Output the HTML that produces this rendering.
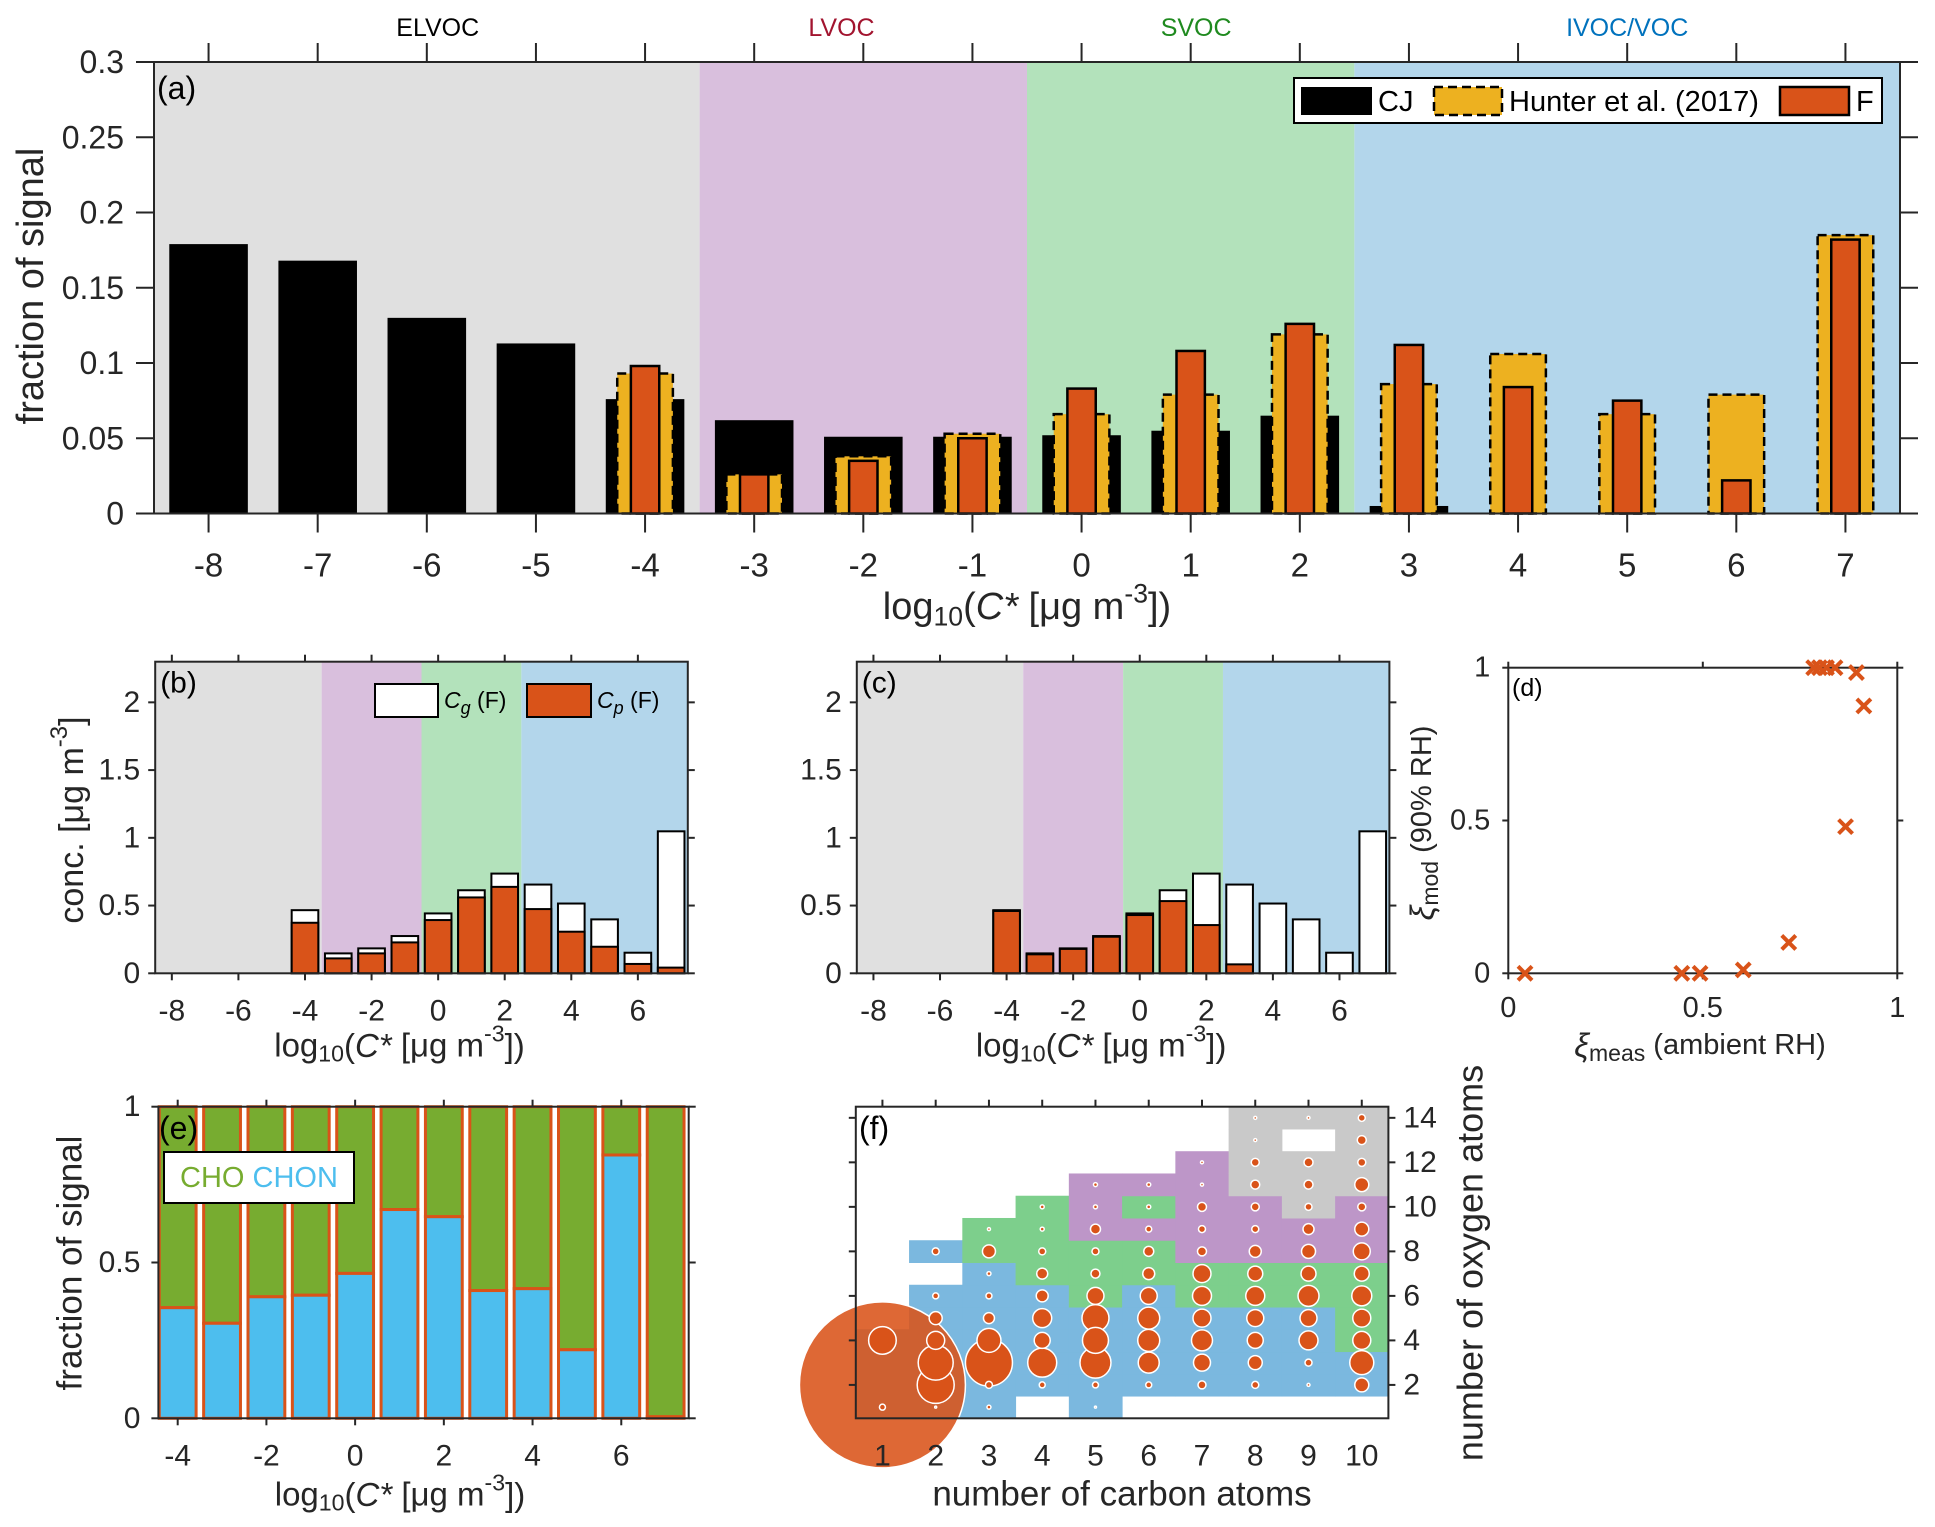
<!DOCTYPE html>
<html><head><meta charset="utf-8"><style>
html,body{margin:0;padding:0;background:#fff;}
svg{display:block;font-family:"Liberation Sans",Arial,sans-serif;}
</style></head><body>
<svg id="fig" xmlns="http://www.w3.org/2000/svg" width="1935" height="1527" viewBox="0 0 1935 1527"></svg>
<script>
// ---------- Panel (a) data ----------
const aCats = [-8,-7,-6,-5,-4,-3,-2,-1,0,1,2,3,4,5,6,7];
const aCJ = [0.179,0.168,0.130,0.113,0.076,0.062,0.051,0.051,0.052,0.055,0.065,0.005,0,0,0,0];
const aHunter = [null,null,null,null,0.093,0.026,0.038,0.053,0.066,0.079,0.119,0.086,0.106,0.066,0.079,0.185];
const aF = [null,null,null,null,0.098,0.026,0.035,0.050,0.083,0.108,0.126,0.112,0.084,0.075,0.022,0.182];
const aYTicks = [0,0.05,0.1,0.15,0.2,0.25,0.3];
const aYTickLabels = ["0","0.05","0.1","0.15","0.2","0.25","0.3"];
// ---------- Panel (b) data ----------
const bCats = [-4,-3,-2,-1,0,1,2,3,4,5,6,7];
const bTotal = [0.466,0.147,0.184,0.275,0.442,0.613,0.736,0.655,0.515,0.398,0.152,1.048];
const bCp = [0.373,0.110,0.147,0.228,0.393,0.560,0.638,0.474,0.307,0.196,0.069,0.042];
// ---------- Panel (c) data ----------
const cTotal = [0.466,0.147,0.184,0.275,0.442,0.613,0.736,0.655,0.515,0.398,0.152,1.048];
const cCp = [0.460,0.140,0.180,0.270,0.430,0.533,0.356,0.066,0,0,0,0];
const bcXTicks = [-8,-6,-4,-2,0,2,4,6];
const bcYTicks = [0,0.5,1,1.5,2];
const bcYTickLabels = ["0","0.5","1","1.5","2"];
// ---------- Panel (d) data ----------
const dX = [0.043,0.446,0.493,0.604,0.721,0.785,0.800,0.818,0.840,0.895,0.867,0.914];
const dY = [0,0,0,0.011,0.101,1,1,1,1,0.984,0.48,0.875];
const dTicks = [0,0.5,1];
const dTickLabels = ["0","0.5","1"];
// ---------- Panel (e) data ----------
const eCats = [-4,-3,-2,-1,0,1,2,3,4,5,6,7];
const eCHON = [0.355,0.305,0.39,0.395,0.465,0.67,0.647,0.41,0.416,0.22,0.845,0.005];
const eXTicks = [-4,-2,0,2,4,6];
const eYTicks = [0,0.5,1];
const eYTickLabels = ["0","0.5","1"];
// ---------- Panel (f) data ----------
const fCols = [1,2,3,4,5,6,7,8,9,10];
const fClass = ["bbbb..........","bbbbbb.b......","bbbbbbbgg.....",".bbbbbgggg....","bbbbbgggppp...",".bbbbbggpgp...",".bbbbggppppp..",".bbbbggpppyyyy",".bbbbggppyyy.y",".bbggggpppyyyy"];
const fC = [1,1,1, 2,2,2,2,2,2,2, 3,3,3,3,3,3,3,3,3, 4,4,4,4,4,4,4,4,4, 5,5,5,5,5,5,5,5,5,5,5, 6,6,6,6,6,6,6,6,6,6, 7,7,7,7,7,7,7,7,7,7,7, 8,8,8,8,8,8,8,8,8,8,8,8,8, 9,9,9,9,9,9,9,9,9,9,9,9, 10,10,10,10,10,10,10,10,10,10,10,10,10];
const fO = [2,4,1, 8,6,5,4,3,2,1, 9,8,7,6,5,4,3,2,1, 10,9,8,7,6,5,4,3,2, 11,10,9,8,7,6,5,4,3,2,1, 11,10,9,8,7,6,5,4,3,2, 12,11,10,9,8,7,6,5,4,3,2, 14,13,12,11,10,9,8,7,6,5,4,3,2, 14,12,11,10,9,8,7,6,5,4,3,2, 14,13,12,11,10,9,8,7,6,5,4,3,2];
const fSignal = [83,13.8,3, 3.5,3,6.5,9,17.5,18.5,1, 1.5,6.5,2,3,5.5,12,23.5,3.5,2, 2,2,3.5,5.5,6,9.5,8,14.5,3, 2,2,5,3.5,4.5,8.5,13.5,13,15.5,3,1, 2,2,3,5,6,8.5,11,11,10.5,3, 1.5,1.5,4.5,3.5,4.5,9,9.5,9,10.5,8.5,4, 1.5,1.5,4,4.5,4,3.5,6,7.5,9.5,8.5,8,7,3.5, 1.5,4.5,4.5,3.5,5.5,7,7.5,10.5,8.5,9.5,3.5,1.5, 3.5,4.5,4,7,4,7,8.5,7.5,10,9,9,12,7];
const fXTicks = [1,2,3,4,5,6,7,8,9,10];
const fYTicks = [2,4,6,8,10,12,14];

const NS = "http://www.w3.org/2000/svg";
const svg = document.getElementById('fig');
function mk(tag, attrs, parent){ const e=document.createElementNS(NS,tag); for(const k in attrs) e.setAttribute(k, attrs[k]); (parent||svg).appendChild(e); return e; }
function lin(d0,d1,r0,r1){ return v => r0 + (v-d0)/(d1-d0)*(r1-r0); }
function txt(x,y,s,size,anchor,parent,extra){ const t=mk('text',Object.assign({x:x,y:y,'font-size':size,'text-anchor':anchor||'middle','dominant-baseline':'central',fill:'#262626'},extra||{}),parent); t.textContent=s; return t; }

const ORANGE='#D95319', YELLOW='#EDB120';
const BG = {gray:'#e0e0e0', purple:'#d9bfdd', green:'#b3e2bb', blue:'#b3d6eb'};

function bands(g, x, y, T, B){
  const defs=[[-8.5,-3.5,BG.gray,'band-elvoc'],[-3.5,-0.5,BG.purple,'band-lvoc'],[-0.5,2.5,BG.green,'band-svoc'],[2.5,7.5,BG.blue,'band-ivoc']];
  defs.forEach(d=>{
    const r=mk('rect',{x:x(d[0]),y:T,width:x(d[1])-x(d[0]),height:B-T,fill:d[2]},g);
    
    
  });
}
function frame(g,L,R,T,B){
  const r=mk('rect',{x:L,y:T,width:R-L,height:B-T,fill:'none',stroke:'#262626','stroke-width':2},g);
  
  
}
function xTicks(g,x,vals,T,B,len,labels,ly,fs,top){
  vals.forEach((v,i)=>{
    mk('line',{x1:x(v),x2:x(v),y1:B,y2:B+len,stroke:'#262626','stroke-width':2},g);
    if(top!==false) mk('line',{x1:x(v),x2:x(v),y1:T,y2:T-len,stroke:'#262626','stroke-width':2},g);
    if(labels){ const t=txt(x(v),ly,labels[i],fs,'middle',g);
      
       }
  });
}
function yTicks(g,y,vals,L,R,len,labels,lx,fs,anchor){
  vals.forEach((v,i)=>{
    mk('line',{x1:L,x2:L-len,y1:y(v),y2:y(v),stroke:'#262626','stroke-width':2},g);
    mk('line',{x1:R,x2:R+len,y1:y(v),y2:y(v),stroke:'#262626','stroke-width':2},g);
    if(labels){ const t=txt(lx,y(v),labels[i],fs,anchor||'end',g);
      
       }
  });
}
function logTitle(g,cx,cy,fs){
  const t=mk('text',{x:cx,y:cy,'font-size':fs,'text-anchor':'middle','dominant-baseline':'central',fill:'#262626'},g);
  t.innerHTML='log<tspan font-size="'+(fs*0.7)+'" dy="'+(fs*0.25)+'">10</tspan><tspan dy="'+(-fs*0.25)+'">(</tspan><tspan font-style="italic">C*</tspan> [μg m<tspan font-size="'+(fs*0.7)+'" dy="'+(-fs*0.35)+'">-3</tspan><tspan dy="'+(fs*0.35)+'">])</tspan>';
  return t;
}

// ================= Panel (a) =================
(function(){
  const g=mk('g',{});
  
  
  const L=154,R=1900,T=62,B=513.5;
  const x=lin(-8.5,7.5,L,R), y=lin(0,0.3,B,T);
  bands(g,x,y,T,B);
  const u=x(1)-x(0);
  aCats.forEach((c,i)=>{
    if(aCJ[i]>0){ const r=mk('rect',{x:x(c)-0.36*u,y:y(aCJ[i]),width:0.72*u,height:B-y(aCJ[i]),fill:'#000'},g);
      
       }
  });
  aCats.forEach((c,i)=>{
    if(aHunter[i]!==null){ const r=mk('rect',{x:x(c)-0.255*u,y:y(aHunter[i]),width:0.51*u,height:B-y(aHunter[i]),fill:YELLOW,stroke:'#000','stroke-width':2.5,'stroke-dasharray':'9,5'},g);
      
       }
  });
  aCats.forEach((c,i)=>{
    if(aF[i]!==null){ const r=mk('rect',{x:x(c)-0.13*u,y:y(aF[i]),width:0.26*u,height:B-y(aF[i]),fill:ORANGE,stroke:'#000','stroke-width':2.5},g);
      
       }
  });
  frame(g,L,R,T,B);
  xTicks(g,x,aCats,T,B,19,aCats.map(String),565,33);
  yTicks(g,y,aYTicks,L,R,18,aYTickLabels,124,32);
  const lbl=[['ELVOC',-5.9,'#000'],['LVOC',-2.2,'#A2142F'],['SVOC',1.05,'#1f8a1f'],['IVOC/VOC',5.0,'#0072BD']];
  lbl.forEach(l=>{ const t=txt(x(l[1]),28,l[0],25,'middle',g,{fill:l[2]});
    
     });
  const pl=txt(157,88,'(a)',32,'start',g,{fill:'#000'});
  
  
  const xt=logTitle(g,1027,607,38);
  
  
  const yt=txt(0,0,'fraction of signal',38,'middle',g,{transform:'translate(31,286) rotate(-90)'});
  
  
  const lg=mk('g',{},g);
  
  
  mk('rect',{x:1294,y:78,width:588,height:45,fill:'#fff',stroke:'#000','stroke-width':2},lg);
  const p1=mk('rect',{x:1301,y:87,width:71,height:28,fill:'#000'},lg);
  
  
  txt(1378,102,'CJ',29,'start',lg,{fill:'#000'});
  const p2=mk('rect',{x:1434,y:87,width:68,height:28,fill:YELLOW,stroke:'#000','stroke-width':2.5,'stroke-dasharray':'9,5'},lg);
  
  
  txt(1509,102,'Hunter et al. (2017)',29,'start',lg,{fill:'#000'});
  const p3=mk('rect',{x:1780,y:87,width:69,height:28,fill:ORANGE,stroke:'#000','stroke-width':2.5},lg);
  
  
  txt(1856,102,'F',29,'start',lg,{fill:'#000'});
})();

// ================= Panels (b) and (c) =================
function stacked(L,R,name,label,tot,cp,showYTitle,showLegend){
  const T=661.7,B=973.3;
  const g=mk('g',{});
  
  
  const x=lin(-8.5,7.5,L,R), y=lin(0,2.3,B,T);
  bands(g,x,y,T,B);
  const u=x(1)-x(0);
  bCats.forEach((c,i)=>{
    const r1=mk('rect',{x:x(c)-0.4*u,y:y(tot[i]),width:0.8*u,height:B-y(tot[i]),fill:'#fff',stroke:'#000','stroke-width':2},g);
    
    
    if(cp[i]>0){ const r2=mk('rect',{x:x(c)-0.4*u,y:y(cp[i]),width:0.8*u,height:B-y(cp[i]),fill:ORANGE,stroke:'#000','stroke-width':2},g);
      
       }
  });
  frame(g,L,R,T,B);
  xTicks(g,x,bcXTicks,T,B,7,bcXTicks.map(String),1011,30);
  yTicks(g,y,bcYTicks,L,R,7,bcYTickLabels,L-15,30);
  const pl=txt(L+5,683,label,30,'start',g,{fill:'#000'});
  
  
  const xt=logTitle(g,(L+R)/2-22,1045,33);
  
  
  if(showYTitle){
    const yt=mk('text',{x:0,y:0,'font-size':34,'text-anchor':'middle','dominant-baseline':'central',fill:'#262626',transform:'translate(72,820) rotate(-90)'},g);
    yt.innerHTML='conc. [μg m<tspan font-size="24" dy="-13">-3</tspan><tspan dy="13">]</tspan>';
    
    
  }
  if(showLegend){
    const lg=mk('g',{},g);
    
    
    mk('rect',{x:375,y:684,width:63,height:33,fill:'#fff',stroke:'#000','stroke-width':2},lg);
    const t1=mk('text',{x:444,y:700,'font-size':23,'dominant-baseline':'central',fill:'#000'},lg);
    t1.innerHTML='<tspan font-style="italic">C</tspan><tspan font-style="italic" font-size="18" dy="8">g</tspan><tspan dy="-8"> (F)</tspan>';
    
    
    mk('rect',{x:527,y:684,width:64,height:33,fill:ORANGE,stroke:'#000','stroke-width':2},lg);
    const t2=mk('text',{x:597,y:700,'font-size':23,'dominant-baseline':'central',fill:'#000'},lg);
    t2.innerHTML='<tspan font-style="italic">C</tspan><tspan font-style="italic" font-size="18" dy="8">p</tspan><tspan dy="-8"> (F)</tspan>';
    
    
  }
}
stacked(155.2,687.8,'panel-b','(b)',bTotal,bCp,true,true);
stacked(856.8,1389.4,'panel-c','(c)',cTotal,cCp,false,false);

// ================= Panel (d) =================
(function(){
  const L=1508.3,R=1897.3,T=667.7,B=973.3;
  const g=mk('g',{});
  
  
  const x=lin(0,1,L,R), y=lin(0,1,B,T);
  frame(g,L,R,T,B);
  xTicks(g,x,dTicks,T,B,6,dTickLabels,1008,29);
  yTicks(g,y,dTicks,L,R,6,dTickLabels,L-18,29);
  dX.forEach((v,i)=>{
    const cx=x(v), cy=y(dY[i]), s=7;
    const m=mk('path',{d:`M${cx-s},${cy-s}L${cx+s},${cy+s}M${cx-s},${cy+s}L${cx+s},${cy-s}`,stroke:ORANGE,'stroke-width':4,fill:'none'},g);
    
    
  });
  const pl=txt(1512,688,'(d)',25,'start',g,{fill:'#000'});
  
  
  const yt=mk('text',{x:0,y:0,'font-size':29,'text-anchor':'middle','dominant-baseline':'central',fill:'#262626',transform:'translate(1422,823) rotate(-90)'},g);
  yt.innerHTML='<tspan font-style="italic" font-size="33">ξ</tspan><tspan font-size="23" dy="8">mod</tspan><tspan dy="-8"> (90% RH)</tspan>';
  
  
  const xt=mk('text',{x:1700,y:1045,'font-size':29,'text-anchor':'middle','dominant-baseline':'central',fill:'#262626'},g);
  xt.innerHTML='<tspan font-style="italic" font-size="33">ξ</tspan><tspan font-size="23" dy="8">meas</tspan><tspan dy="-8"> (ambient RH)</tspan>';
  
  
})();

// ================= Panel (e) =================
(function(){
  const L=158.4,R=688.7,T=1106.7,B=1418.3;
  const g=mk('g',{});
  
  
  const x=lin(-4.435,7.52,L,R), y=lin(0,1,B,T);
  const u=x(1)-x(0);
  eCats.forEach((c,i)=>{
    const r1=mk('rect',{x:x(c)-0.415*u,y:y(1),width:0.83*u,height:y(eCHON[i])-y(1),fill:'#77AC30',stroke:ORANGE,'stroke-width':3},g);
    
    
    const r2=mk('rect',{x:x(c)-0.415*u,y:y(eCHON[i]),width:0.83*u,height:B-y(eCHON[i]),fill:'#4DBEEE',stroke:ORANGE,'stroke-width':3},g);
    
    
  });
  frame(g,L,R,T,B);
  xTicks(g,x,eXTicks,T,B,7,eXTicks.map(String),1456,30);
  yTicks(g,y,eYTicks,L,R,7,eYTickLabels,L-18,30);
  const pl=txt(159,1128,'(e)',32,'start',g,{fill:'#000'});
  
  
  const lg=mk('g',{},g);
  
  
  mk('rect',{x:164,y:1152,width:190,height:51,fill:'#fff',stroke:'#000','stroke-width':2},lg);
  const lt=mk('text',{x:180,y:1178,'font-size':29,'dominant-baseline':'central'},lg);
  lt.innerHTML='<tspan fill="#77AC30">CHO</tspan> <tspan fill="#4DBEEE">CHON</tspan>';
  
  
  const xt=logTitle(g,400,1494,33);
  
  
  const yt=txt(0,0,'fraction of signal',35,'middle',g,{transform:'translate(70,1263) rotate(-90)'});
  
  
})();

// ================= Panel (f) =================
(function(){
  const L=855.8,R=1388.4,T=1106.7,B=1418.3;
  const g=mk('g',{});
  
  
  const x=lin(0.5,10.5,L,R), y=lin(0.5,14.5,B,T);
  const cw=x(1)-x(0), ch=y(0)-y(1);
  const col={b:'#7bb8df',g:'#7dcf8c',p:'#bd96c8',y:'#c9c9c9'};
  fClass.forEach((s,ci)=>{
    for(let oi=0;oi<s.length;oi++){
      const k=s[oi]; if(k==='.') continue;
      const c=fCols[ci], o=oi+1;
      const r=mk('rect',{x:x(c-0.5),y:y(o+0.5),width:cw+0.5,height:ch+0.5,fill:col[k]},g);
      
      
    }
  });
  const idx=fSignal.map((v,i)=>i).sort((a,b)=>fSignal[b]-fSignal[a]);
  idx.forEach(i=>{
    const c=mk('circle',{cx:x(fC[i]),cy:y(fO[i]),r:fSignal[i],fill:ORANGE,'fill-opacity':fSignal[i]>40?0.88:1,stroke:'#fff','stroke-width':1.5},g);
    
    
  });
  frame(g,L,R,T,B);
  fXTicks.forEach(v=>{ mk('line',{x1:x(v),x2:x(v),y1:T,y2:T-7,stroke:'#262626','stroke-width':2},g);
    const t=txt(x(v),1456,String(v),30,'middle',g);
    
     });
  fYTicks.forEach(v=>{ mk('line',{x1:L,x2:L-7,y1:y(v),y2:y(v),stroke:'#262626','stroke-width':2},g);
    mk('line',{x1:R,x2:R+7,y1:y(v),y2:y(v),stroke:'#262626','stroke-width':2},g);
    const t=txt(R+15,y(v),String(v),30,'start',g);
    
     });
  const pl=txt(859,1128,'(f)',32,'start',g,{fill:'#000'});
  
  
  const xt=txt(1122,1494,'number of carbon atoms',35,'middle',g);
  
  
  const yt=txt(0,0,'number of oxygen atoms',36,'middle',g,{transform:'translate(1470,1263) rotate(-90)'});
  
  
})();
</script>
</body></html>
